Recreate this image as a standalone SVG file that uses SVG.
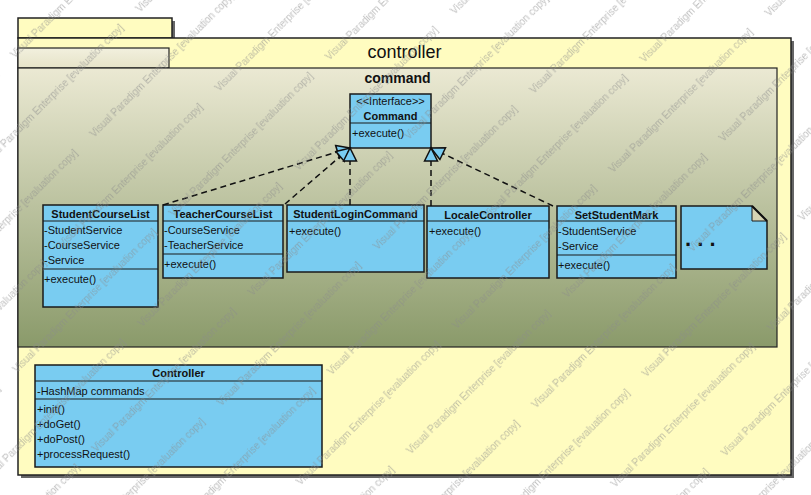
<svg xmlns="http://www.w3.org/2000/svg" width="811" height="495" viewBox="0 0 811 495">
<style>
.t{font-family:"Liberation Sans",Arial,sans-serif;font-size:11px;fill:#111}
.b{font-weight:bold}
.m{text-anchor:middle}
.box{fill:#79ccf1;stroke:#1a1a1a;stroke-width:1.5}
.dv{stroke:#1a1a1a;stroke-width:1.2;fill:none}
.dash{fill:none;stroke:#111;stroke-width:1.5;stroke-dasharray:6 4;marker-end:url(#tri)}
.wm{font-family:"Liberation Sans",Arial,sans-serif;font-size:10px;fill:#8a8a8a;fill-opacity:0.55}
</style>
<defs>
<linearGradient id="pkg" x1="0" y1="0" x2="0" y2="1">
<stop offset="0" stop-color="#ebe9d3"/>
<stop offset="1" stop-color="#8a9a6a"/>
</linearGradient>
<linearGradient id="tabg" x1="0" y1="0" x2="0" y2="1">
<stop offset="0" stop-color="#f2f0de"/>
<stop offset="1" stop-color="#e6e3c8"/>
</linearGradient>
<marker id="tri" markerUnits="userSpaceOnUse" markerWidth="16" markerHeight="16" refX="13" refY="6.5" orient="auto" overflow="visible">
<path d="M0,0 L13,6.5 L0,13 z" fill="#79ccf1" stroke="#111" stroke-width="1.5"/>
</marker>
<pattern id="wmp" patternUnits="userSpaceOnUse" width="221" height="112" patternTransform="rotate(-45)">
<text class="wm" x="90" y="108">Visual Paradigm Enterprise [evaluation copy]</text>
<text class="wm" x="-131" y="108">Visual Paradigm Enterprise [evaluation copy]</text>
<text class="wm" x="190" y="52">Visual Paradigm Enterprise [evaluation copy]</text>
<text class="wm" x="-31" y="52">Visual Paradigm Enterprise [evaluation copy]</text>
</pattern>
</defs>

<g id="pkg-controller">
<rect x="21" y="21" width="154" height="20" fill="#666"/>
<rect x="21" y="41" width="773" height="437" fill="#666"/>
<rect x="18" y="18" width="154" height="20" fill="#fffcc0" stroke="#222" stroke-width="1.5"/>
<rect x="18" y="38" width="773" height="437" fill="#fffcc0" stroke="#222" stroke-width="1.5"/>
<text class="t m" x="404.5" y="58" style="font-size:18px">controller</text>
</g>

<g id="pkg-command">
<rect x="18" y="48" width="151" height="20" fill="url(#tabg)" stroke="#222" stroke-width="1.2"/>
<rect x="18" y="68" width="759" height="279" fill="url(#pkg)" stroke="#222" stroke-width="1.2"/>
<text class="t b m" x="397.5" y="83" style="font-size:14px">command</text>
</g>

<g id="Command">
<rect class="box" x="350" y="94" width="81" height="54"/>
<line class="dv" x1="350" y1="123" x2="431" y2="123"/>
<text class="t m" x="390.5" y="105">&lt;&lt;Interface&gt;&gt;</text>
<text class="t b m" x="390.5" y="120">Command</text>
<text class="t" x="352" y="137">+execute()</text>
</g>

<g id="StudentCourseList">
<rect class="box" x="43" y="205" width="115" height="102"/>
<line class="dv" x1="43" y1="221" x2="158" y2="221"/>
<line class="dv" x1="43" y1="269" x2="158" y2="269"/>
<text class="t b m" x="100.5" y="218">StudentCourseList</text>
<text class="t" x="44" y="234">-StudentService</text>
<text class="t" x="44" y="249">-CourseService</text>
<text class="t" x="44" y="264">-Service</text>
<text class="t" x="44" y="283">+execute()</text>
</g>

<g id="TeacherCourseList">
<rect class="box" x="163" y="205" width="120" height="73"/>
<line class="dv" x1="163" y1="221" x2="283" y2="221"/>
<line class="dv" x1="163" y1="254" x2="283" y2="254"/>
<text class="t b m" x="223" y="218">TeacherCourseList</text>
<text class="t" x="164" y="234">-CourseService</text>
<text class="t" x="164" y="249">-TeacherService</text>
<text class="t" x="164" y="268">+execute()</text>
</g>

<g id="StudentLoginCommand">
<rect class="box" x="287" y="205" width="137" height="67"/>
<line class="dv" x1="287" y1="221" x2="424" y2="221"/>
<text class="t b m" x="355.5" y="218">StudentLoginCommand</text>
<text class="t" x="289" y="235">+execute()</text>
</g>

<g id="LocaleController">
<rect class="box" x="427" y="206" width="122" height="72"/>
<line class="dv" x1="427" y1="221" x2="549" y2="221"/>
<text class="t b m" x="488" y="219">LocaleController</text>
<text class="t" x="429" y="235">+execute()</text>
</g>

<g id="SetStudentMark">
<rect class="box" x="557" y="206" width="119" height="72"/>
<line class="dv" x1="557" y1="221" x2="676" y2="221"/>
<line class="dv" x1="557" y1="255" x2="676" y2="255"/>
<text class="t b m" x="616.5" y="219">SetStudentMark</text>
<text class="t" x="558" y="235">-StudentService</text>
<text class="t" x="558" y="250">-Service</text>
<text class="t" x="558" y="269">+execute()</text>
</g>

<g id="Note">
<path d="M681,206 L752,206 L767,221 L767,269 L681,269 z" fill="#79ccf1" stroke="#1a1a1a" stroke-width="1.5"/>
<path d="M752,206 L752,221 L767,221 z" fill="#d6d4b4" stroke="#1a1a1a" stroke-width="1"/>
<line x1="752" y1="206" x2="767" y2="221" stroke="#111" stroke-width="2.2"/>
<text class="t b" x="685" y="246" style="font-size:22px">. . .</text>
</g>

<g id="Controller">
<rect class="box" x="35" y="365" width="287" height="102"/>
<line class="dv" x1="35" y1="381" x2="322" y2="381"/>
<line class="dv" x1="35" y1="399" x2="322" y2="399"/>
<text class="t b m" x="178.5" y="377">Controller</text>
<text class="t" x="37" y="395">-HashMap commands</text>
<text class="t" x="37" y="413">+init()</text>
<text class="t" x="37" y="428">+doGet()</text>
<text class="t" x="37" y="443">+doPost()</text>
<text class="t" x="37" y="458">+processRequest()</text>
</g>

<g id="connectors">
<path class="dash" d="M163,205 L350,148"/>
<path class="dash" d="M285,204 L350,148"/>
<path class="dash" d="M350,205 L350,148"/>
<path class="dash" d="M431,206 L431,148"/>
<path class="dash" d="M553,206 L431,148"/>
</g>

<rect id="watermark" x="0" y="0" width="811" height="495" fill="url(#wmp)" pointer-events="none"/>
</svg>
